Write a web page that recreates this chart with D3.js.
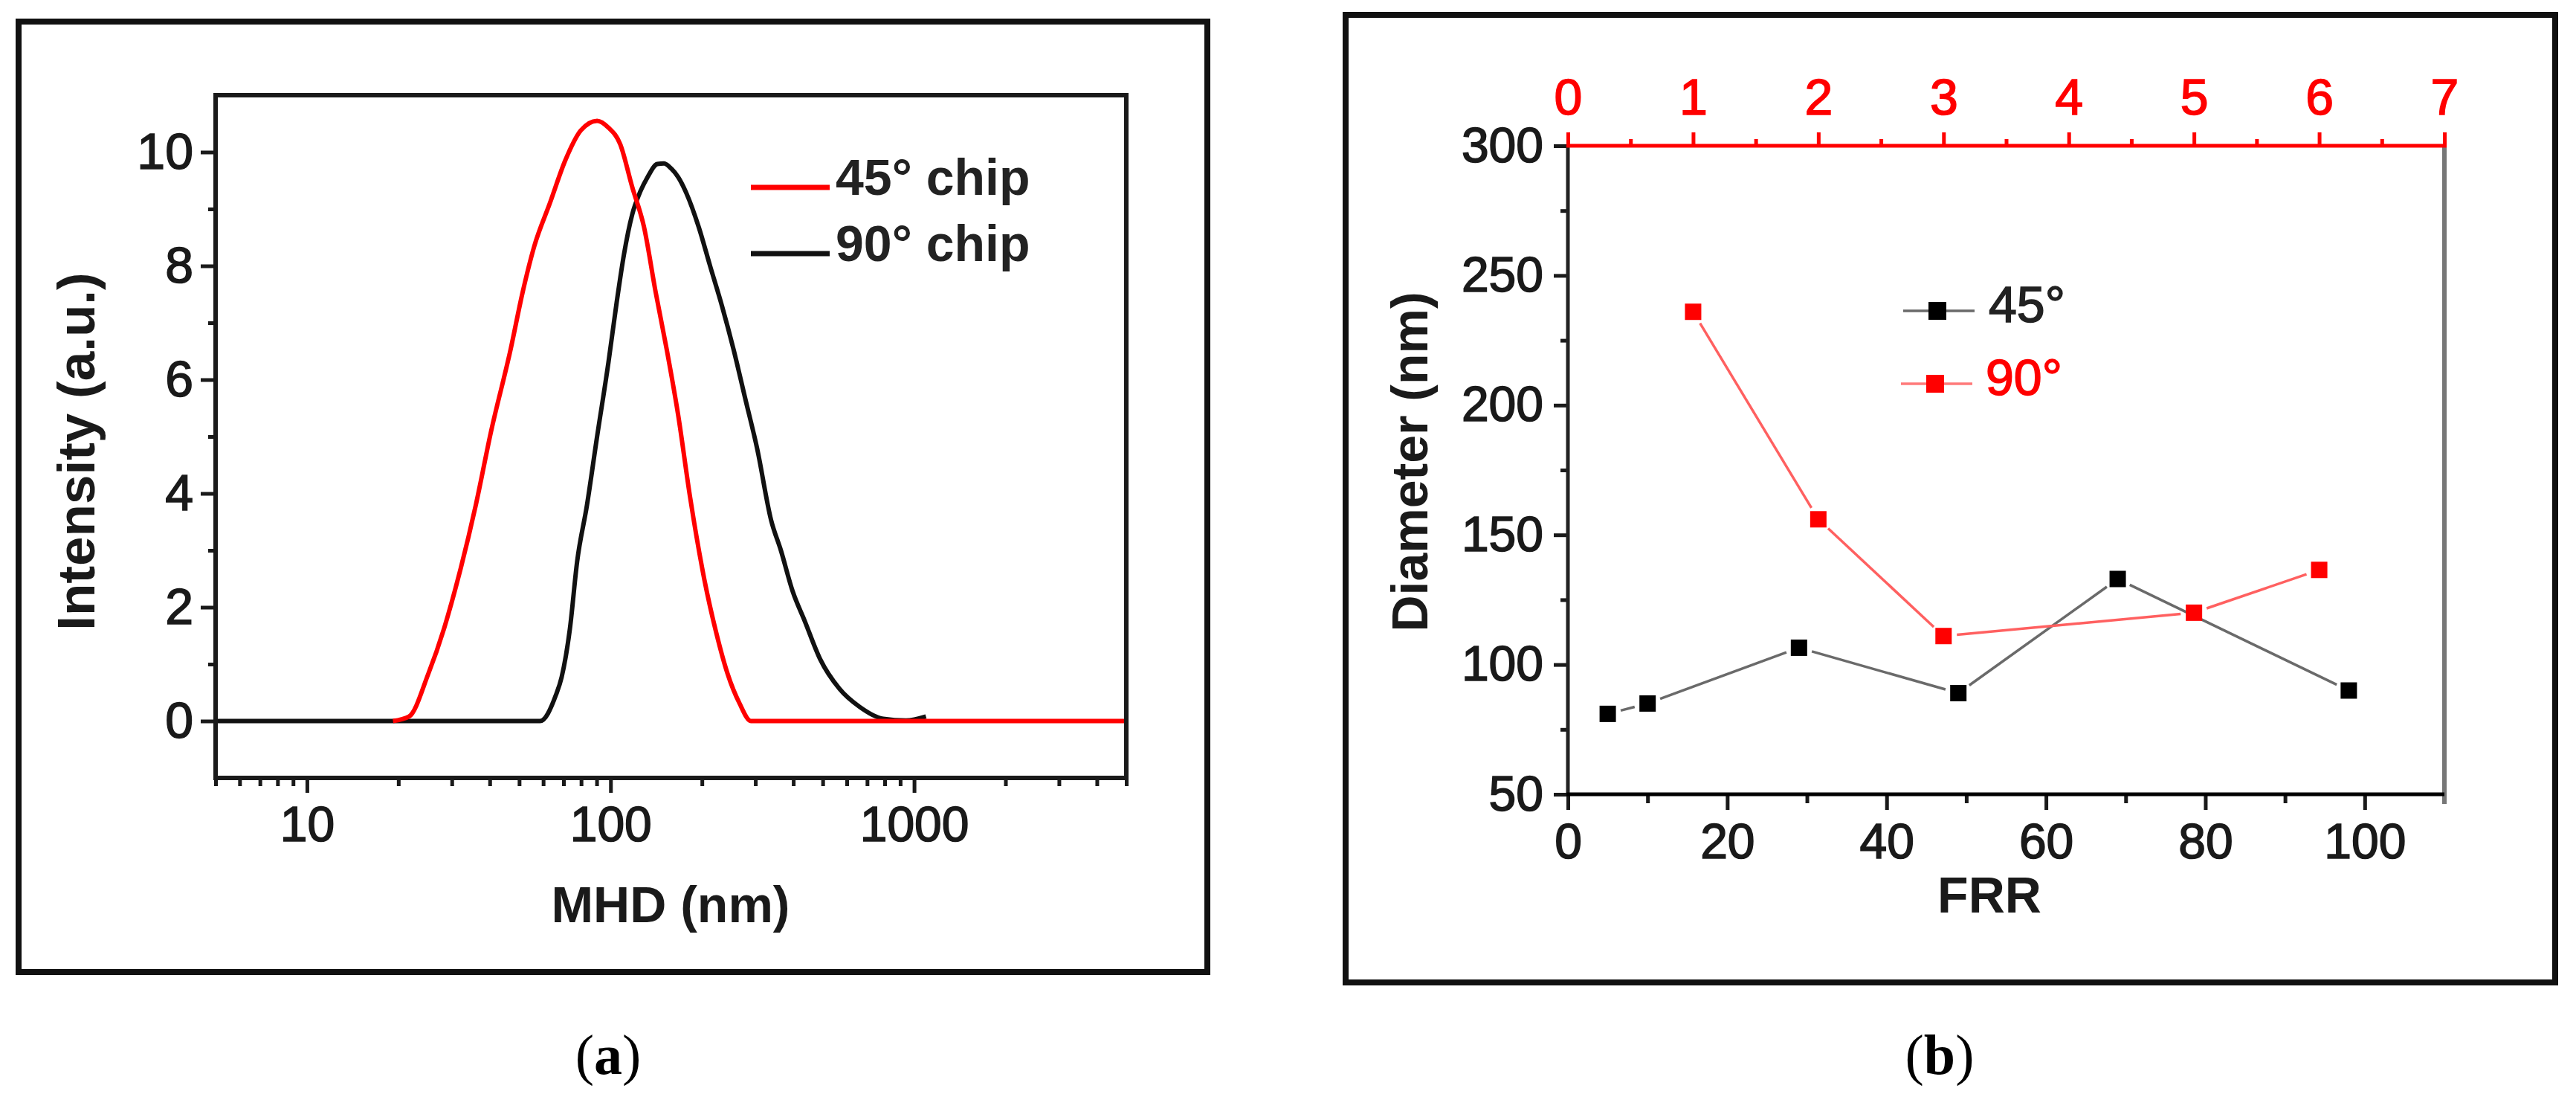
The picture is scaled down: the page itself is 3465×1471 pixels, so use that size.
<!DOCTYPE html>
<html><head><meta charset="utf-8">
<script src="https://cdn.jsdelivr.net/npm/d3@7"></script>
<style>body{margin:0;background:#fff} text{font-family:'Liberation Sans',Arial,sans-serif}</style>
</head><body>
<svg id="c" width="3465" height="1471"></svg>
<script>
// ---------- Data: panel (a) ----------
const mhd45 = [19.2, 21.7, 25.1, 28.3, 31.8, 36.0, 40.4, 46.9, 51.3, 56.1, 63.1, 71, 79.8, 90.3, 98.4, 107.6, 117.8, 128.8, 140.9, 153, 167, 183, 204, 223, 243, 266, 290, 5000];
const int45 = [0, 0.08, 0.83, 1.63, 2.6, 3.8, 5.09, 6.54, 7.53, 8.35, 9.1, 9.86, 10.38, 10.55, 10.43, 10.14, 9.39, 8.69, 7.53, 6.54, 5.38, 3.92, 2.47, 1.55, 0.83, 0.31, 0, 0];
const mhd90 = [5, 58.6, 66, 69, 73.5, 77.6, 83.6, 90.3, 98.4, 104.7, 110.7, 117.8, 124.5, 132.4, 142.6, 150, 158.5, 167, 178, 195, 213, 233, 254, 278, 304, 338, 364, 398, 436, 490, 567, 661, 791, 940, 1094];
const int90 = [0, 0, 0.45, 0.77, 1.63, 2.8, 3.79, 5.0, 6.3, 7.35, 8.2, 8.9, 9.27, 9.56, 9.79, 9.8, 9.71, 9.56, 9.27, 8.69, 7.99, 7.29, 6.54, 5.66, 4.79, 3.53, 3.0, 2.28, 1.76, 1.09, 0.57, 0.25, 0.04, 0.01, 0.08];
const xTicksA = [10, 100, 1000];
const yTicksA = [0, 2, 4, 6, 8, 10];
const yMinorA = [1, 3, 5, 7, 9];
const legendA = ["45° chip", "90° chip"];

// ---------- Data: panel (b) ----------
const frr45 = [5, 10, 29, 49, 69, 98];
const dia45 = [81, 85, 106.5, 89, 133, 90];
const ratio90 = [1, 2, 3, 5, 6];
const dia90 = [236, 156, 111, 120, 136.5];
const xTicksB = [0, 20, 40, 60, 80, 100];
const xMinorB = [10, 30, 50, 70, 90, 110];
const topTicksB = [0, 1, 2, 3, 4, 5, 6, 7];
const topMinorB = [0.5, 1.5, 2.5, 3.5, 4.5, 5.5, 6.5];
const yTicksB = [50, 100, 150, 200, 250, 300];
const yMinorB = [75, 125, 175, 225, 275];
const legendB = ["45°", "90°"];

const RED = "#ff0000", DARK = "#1a1a1a";
const svg = d3.select("#c");
svg.append("rect").attr("width", 3465).attr("height", 1471).attr("fill", "#fff");

// ---------- Outer frames ----------
svg.append("rect").attr("x", 25).attr("y", 29).attr("width", 1599).attr("height", 1278)
  .attr("fill", "none").attr("stroke", "#111").attr("stroke-width", 8);
svg.append("rect").attr("x", 1810).attr("y", 20).attr("width", 1627).attr("height", 1301)
  .attr("fill", "none").attr("stroke", "#111").attr("stroke-width", 8);

function styleAxis(g, size, color) {
  g.select(".domain").remove();
  g.selectAll("line").attr("stroke", color).attr("stroke-width", 5);
  g.selectAll("text").attr("font-size", size).attr("fill", color)
    .attr("stroke", color).attr("stroke-width", 1.6)
    .style("font-family", "'Liberation Sans',Arial,sans-serif");
}

// ================= Panel (a) =================
const A = {l: 290, r: 1515, t: 128, b: 1046};
const xA = d3.scaleLog().domain([5, 5000]).range([A.l, A.r]);
const yA = d3.scaleLinear().domain([-1, 11]).range([A.b, A.t]);

const gA = svg.append("g");
const minorXA = xA.ticks().filter(v => xTicksA.indexOf(v) < 0);
gA.append("g").attr("transform", `translate(0,${A.b})`)
  .call(d3.axisBottom(xA).tickValues(minorXA).tickSize(11).tickFormat(""))
  .call(g => styleAxis(g, 66, DARK));
gA.append("g").attr("transform", `translate(0,${A.b})`)
  .call(d3.axisBottom(xA).tickValues(xTicksA).tickSize(20).tickPadding(18).tickFormat(d3.format("d")))
  .call(g => styleAxis(g, 66, DARK));
gA.append("g").attr("transform", `translate(${A.l},0)`)
  .call(d3.axisLeft(yA).tickValues(yMinorA).tickSize(10).tickFormat(""))
  .call(g => styleAxis(g, 66, DARK));
gA.append("g").attr("transform", `translate(${A.l},0)`)
  .call(d3.axisLeft(yA).tickValues(yTicksA).tickSize(20).tickPadding(10).tickFormat(d3.format("d")))
  .call(g => styleAxis(g, 68, DARK));

const lineA = d3.line().x(d => xA(d[0])).y(d => yA(d[1])).curve(d3.curveMonotoneX);
gA.append("path").datum(mhd90.map((v, i) => [v, int90[i]]))
  .attr("d", lineA).attr("fill", "none").attr("stroke", "#111").attr("stroke-width", 6).attr("stroke-linejoin", "round");
gA.append("path").datum(mhd45.map((v, i) => [v, int45[i]]))
  .attr("d", lineA).attr("fill", "none").attr("stroke", RED).attr("stroke-width", 6).attr("stroke-linejoin", "round");

gA.append("rect").attr("x", A.l).attr("y", A.t).attr("width", A.r - A.l).attr("height", A.b - A.t)
  .attr("fill", "none").attr("stroke", DARK).attr("stroke-width", 6);

const legColA = [RED, "#111"];
legendA.forEach((t, i) => {
  const y = 252 + i * 89;
  gA.append("line").attr("x1", 1010).attr("x2", 1116).attr("y1", y).attr("y2", y)
    .attr("stroke", legColA[i]).attr("stroke-width", 7);
  gA.append("text").attr("x", 1124).attr("y", y + 10).attr("font-size", 68).attr("font-weight", "bold")
    .attr("fill", "#222").text(t);
});

gA.append("text").attr("transform", "translate(127,607) rotate(-90)").attr("text-anchor", "middle")
  .attr("font-size", 71).attr("font-weight", "bold").attr("fill", DARK).text("Intensity (a.u.)");
gA.append("text").attr("x", 902).attr("y", 1240).attr("text-anchor", "middle")
  .attr("font-size", 68).attr("font-weight", "bold").attr("fill", DARK).text("MHD (nm)");

// ================= Panel (b) =================
const B = {l: 2109, r: 3288, t: 196, b: 1068};
const xB = d3.scaleLinear().domain([0, 110]).range([B.l, B.r]);
const xTop = d3.scaleLinear().domain([0, 7]).range([B.l, B.r]);
const yB = d3.scaleLinear().domain([50, 300]).range([B.b, B.t]);
const gB = svg.append("g");

gB.append("g").attr("transform", `translate(0,${B.b})`)
  .call(d3.axisBottom(xB).tickValues(xMinorB).tickSize(12).tickFormat(""))
  .call(g => styleAxis(g, 66, DARK));
gB.append("g").attr("transform", `translate(0,${B.b})`)
  .call(d3.axisBottom(xB).tickValues(xTicksB).tickSize(21).tickPadding(18).tickFormat(d3.format("d")))
  .call(g => styleAxis(g, 66, DARK));
gB.append("g").attr("transform", `translate(0,${B.t})`)
  .call(d3.axisTop(xTop).tickValues(topMinorB).tickSize(9).tickFormat(""))
  .call(g => styleAxis(g, 66, RED));
gB.append("g").attr("transform", `translate(0,${B.t})`)
  .call(d3.axisTop(xTop).tickValues(topTicksB).tickSize(18).tickPadding(24).tickFormat(d3.format("d")))
  .call(g => styleAxis(g, 68, RED));
gB.append("g").attr("transform", `translate(${B.l},0)`)
  .call(d3.axisLeft(yB).tickValues(yMinorB).tickSize(10).tickFormat(""))
  .call(g => styleAxis(g, 66, DARK));
gB.append("g").attr("transform", `translate(${B.l},0)`)
  .call(d3.axisLeft(yB).tickValues(yTicksB).tickSize(19).tickPadding(14).tickFormat(d3.format("d")))
  .call(g => styleAxis(g, 66, DARK));

gB.append("line").attr("x1", B.r).attr("x2", B.r).attr("y1", B.t).attr("y2", B.b + 13)
  .attr("stroke", "#777").attr("stroke-width", 6);
gB.append("line").attr("x1", B.l).attr("x2", B.l).attr("y1", B.t).attr("y2", B.b)
  .attr("stroke", "#222").attr("stroke-width", 5);
gB.append("line").attr("x1", B.l - 2).attr("x2", B.r).attr("y1", B.b).attr("y2", B.b)
  .attr("stroke", "#000").attr("stroke-width", 5);
gB.append("line").attr("x1", B.l - 2).attr("x2", B.r + 3).attr("y1", B.t).attr("y2", B.t)
  .attr("stroke", RED).attr("stroke-width", 5);

function trimmedSegs(pts, gap) {
  const out = [];
  for (let i = 0; i < pts.length - 1; i++) {
    const [x1, y1] = pts[i], [x2, y2] = pts[i + 1];
    const dx = x2 - x1, dy = y2 - y1, L = Math.hypot(dx, dy);
    if (L <= 2 * gap) continue;
    const ux = dx / L, uy = dy / L;
    out.push([x1 + ux * gap, y1 + uy * gap, x2 - ux * gap, y2 - uy * gap]);
  }
  return out;
}
const pts45 = frr45.map((v, i) => [xB(v), yB(dia45[i])]);
const pts90 = ratio90.map((v, i) => [xTop(v), yB(dia90[i])]);

gB.selectAll(".s45").data(trimmedSegs(pts45, 18)).join("line")
  .attr("x1", d => d[0]).attr("y1", d => d[1]).attr("x2", d => d[2]).attr("y2", d => d[3])
  .attr("stroke", "#6a6a6a").attr("stroke-width", 3.5);
gB.selectAll(".s90").data(trimmedSegs(pts90, 18)).join("line")
  .attr("x1", d => d[0]).attr("y1", d => d[1]).attr("x2", d => d[2]).attr("y2", d => d[3])
  .attr("stroke", "#ff6060").attr("stroke-width", 3.5);

const MS = 22;
gB.selectAll(".m45").data(pts45).join("rect")
  .attr("x", d => d[0] - MS / 2).attr("y", d => d[1] - MS / 2).attr("width", MS).attr("height", MS).attr("fill", "#000");
gB.selectAll(".m90").data(pts90).join("rect")
  .attr("x", d => d[0] - MS / 2).attr("y", d => d[1] - MS / 2).attr("width", MS).attr("height", MS).attr("fill", RED);

const legColB = [["#6a6a6a", "#000", "#222"], ["#ff7a7a", RED, RED]];
legendB.forEach((t, i) => {
  const y = 418 + i * 98, cx = 2606 - i * 3;
  gB.append("line").attr("x1", cx - 46).attr("x2", cx + 50).attr("y1", y).attr("y2", y)
    .attr("stroke", legColB[i][0]).attr("stroke-width", 3.5);
  gB.append("rect").attr("x", cx - 12).attr("y", y - 12).attr("width", 24).attr("height", 24).attr("fill", legColB[i][1]);
  gB.append("text").attr("x", 2675 - i * 4).attr("y", y + 15).attr("font-size", 68)
    .attr("fill", legColB[i][2]).attr("stroke", legColB[i][2]).attr("stroke-width", 1.6).text(t);
});

gB.append("text").attr("transform", "translate(1920,621) rotate(-90)").attr("text-anchor", "middle")
  .attr("font-size", 68).attr("font-weight", "bold").attr("fill", DARK).text("Diameter (nm)");
gB.append("text").attr("x", 2676).attr("y", 1227).attr("text-anchor", "middle")
  .attr("font-size", 68).attr("font-weight", "bold").attr("fill", DARK).text("FRR");

// ---------- Panel labels ----------
function panelLabel(x, letter) {
  const t = svg.append("text").attr("x", x).attr("y", 1444).attr("text-anchor", "middle")
    .attr("font-size", 76).attr("fill", "#000").style("font-family", "'Liberation Serif','Times New Roman',serif");
  t.append("tspan").text("(");
  t.append("tspan").attr("font-weight", "bold").text(letter);
  t.append("tspan").text(")");
}
panelLabel(818, "a");
panelLabel(2609, "b");
</script>
</body></html>
